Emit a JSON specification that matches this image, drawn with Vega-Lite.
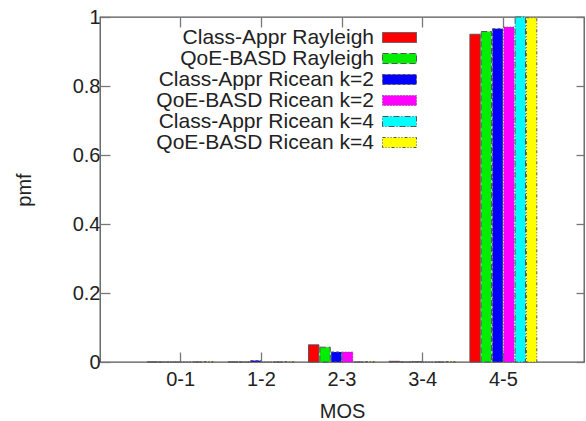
{
  "$schema": "https://vega.github.io/schema/vega-lite/v6.json",
  "width": 484,
  "height": 345,
  "autosize": {"type": "none"},
  "padding": {"left": 100, "top": 17, "right": 2, "bottom": 59},
  "background": "white",
  "config": {
    "font": "Liberation Sans",
    "view": {"stroke": "#555", "strokeWidth": 1.3},
    "axis": {"grid": false, "domain": false, "tickColor": "#777", "tickWidth": 1.3, "labelColor": "#222", "titleColor": "#222", "labelFont": "Liberation Sans", "titleFont": "Liberation Sans", "labelFontSize": 20, "titleFontSize": 20, "titleFontWeight": "normal"}
  },
  "data": {
    "values": [
      {"mos": "0-1", "series": "Class-Appr Rayleigh", "pmf": 0},
      {"mos": "1-2", "series": "Class-Appr Rayleigh", "pmf": 0},
      {"mos": "2-3", "series": "Class-Appr Rayleigh", "pmf": 0.050},
      {"mos": "3-4", "series": "Class-Appr Rayleigh", "pmf": 0.002},
      {"mos": "4-5", "series": "Class-Appr Rayleigh", "pmf": 0.950},
      {"mos": "0-1", "series": "QoE-BASD Rayleigh", "pmf": 0},
      {"mos": "1-2", "series": "QoE-BASD Rayleigh", "pmf": 0},
      {"mos": "2-3", "series": "QoE-BASD Rayleigh", "pmf": 0.043},
      {"mos": "3-4", "series": "QoE-BASD Rayleigh", "pmf": 0},
      {"mos": "4-5", "series": "QoE-BASD Rayleigh", "pmf": 0.958},
      {"mos": "0-1", "series": "Class-Appr Ricean k=2", "pmf": 0},
      {"mos": "1-2", "series": "Class-Appr Ricean k=2", "pmf": 0.004},
      {"mos": "2-3", "series": "Class-Appr Ricean k=2", "pmf": 0.029},
      {"mos": "3-4", "series": "Class-Appr Ricean k=2", "pmf": 0.001},
      {"mos": "4-5", "series": "Class-Appr Ricean k=2", "pmf": 0.966},
      {"mos": "0-1", "series": "QoE-BASD Ricean k=2", "pmf": 0},
      {"mos": "1-2", "series": "QoE-BASD Ricean k=2", "pmf": 0},
      {"mos": "2-3", "series": "QoE-BASD Ricean k=2", "pmf": 0.029},
      {"mos": "3-4", "series": "QoE-BASD Ricean k=2", "pmf": 0},
      {"mos": "4-5", "series": "QoE-BASD Ricean k=2", "pmf": 0.971},
      {"mos": "0-1", "series": "Class-Appr Ricean k=4", "pmf": 0},
      {"mos": "1-2", "series": "Class-Appr Ricean k=4", "pmf": 0},
      {"mos": "2-3", "series": "Class-Appr Ricean k=4", "pmf": 0},
      {"mos": "3-4", "series": "Class-Appr Ricean k=4", "pmf": 0},
      {"mos": "4-5", "series": "Class-Appr Ricean k=4", "pmf": 1.0},
      {"mos": "0-1", "series": "QoE-BASD Ricean k=4", "pmf": 0.001},
      {"mos": "1-2", "series": "QoE-BASD Ricean k=4", "pmf": 0.001},
      {"mos": "2-3", "series": "QoE-BASD Ricean k=4", "pmf": 0.001},
      {"mos": "3-4", "series": "QoE-BASD Ricean k=4", "pmf": 0.001},
      {"mos": "4-5", "series": "QoE-BASD Ricean k=4", "pmf": 0.998}
    ]
  },
  "layer": [
    {
      "mark": {"type": "bar", "stroke": "#555", "strokeWidth": 1},
      "encoding": {
        "x": {"field": "mos", "type": "nominal", "sort": null,
          "scale": {"paddingInner": 0.17, "paddingOuter": 0.585},
          "axis": {"title": "MOS", "labelAngle": 0, "tickSize": -10, "labelPadding": 17, "titlePadding": 12}},
        "xOffset": {"field": "series", "type": "nominal", "sort": null, "scale": {"paddingInner": 0.08, "paddingOuter": 0}},
        "y": {"field": "pmf", "type": "quantitative",
          "scale": {"domain": [0, 1], "nice": false, "zero": true},
          "axis": {"title": "pmf", "values": [0, 0.2, 0.4, 0.6, 0.8, 1], "format": "~g", "tickSize": -10, "labelPadding": 10, "titlePadding": 38}},
        "color": {"field": "series", "type": "nominal", "sort": null,
          "scale": {"domain": ["Class-Appr Rayleigh", "QoE-BASD Rayleigh", "Class-Appr Ricean k=2", "QoE-BASD Ricean k=2", "Class-Appr Ricean k=4", "QoE-BASD Ricean k=4"],
                    "range": ["#ff0000", "#00ee00", "#0000ff", "#ff00ff", "#00ffff", "#ffff00"]},
          "legend": {"title": null, "orient": "none", "legendX": 289, "legendY": 10, "padding": 0,
            "labelAlign": "right", "labelOffset": -36, "labelFontSize": 21, "labelColor": "#222", "labelFont": "Liberation Sans",
            "symbolType": "M-3.4,-1H3.4V1H-3.4Z", "symbolSize": 100, "symbolStrokeColor": "#555", "symbolStrokeWidth": 1, "rowPadding": -2.5, "labelLimit": 400}},
        "strokeDash": {"field": "series", "type": "nominal", "sort": null,
          "scale": {"domain": ["Class-Appr Rayleigh", "QoE-BASD Rayleigh", "Class-Appr Ricean k=2", "QoE-BASD Ricean k=2", "Class-Appr Ricean k=4", "QoE-BASD Ricean k=4"],
                    "range": [[1, 0], [6, 3], [3, 2], [1, 2], [6, 2, 1, 2], [3, 2, 1, 2, 1, 2]]},
          "legend": {"title": null, "orient": "none", "legendX": 289, "legendY": 10, "padding": 0,
            "labelAlign": "right", "labelOffset": -36, "labelFontSize": 21,
            "symbolType": "M-3.4,-1H3.4V1H-3.4Z", "symbolSize": 100, "rowPadding": -2.5, "labelLimit": 400}}
      }
    },
    {
      "mark": {"type": "bar", "opacity": 0},
      "encoding": {
        "x": {"field": "mos", "type": "nominal", "sort": null,
          "axis": {"orient": "top", "title": null, "labels": false, "tickSize": -10}},
        "y": {"field": "pmf", "type": "quantitative",
          "axis": {"orient": "right", "title": null, "labels": false, "values": [0, 0.2, 0.4, 0.6, 0.8, 1], "tickSize": -8}}
      }
    }
  ],
  "resolve": {"axis": {"x": "independent", "y": "independent"}}
}
